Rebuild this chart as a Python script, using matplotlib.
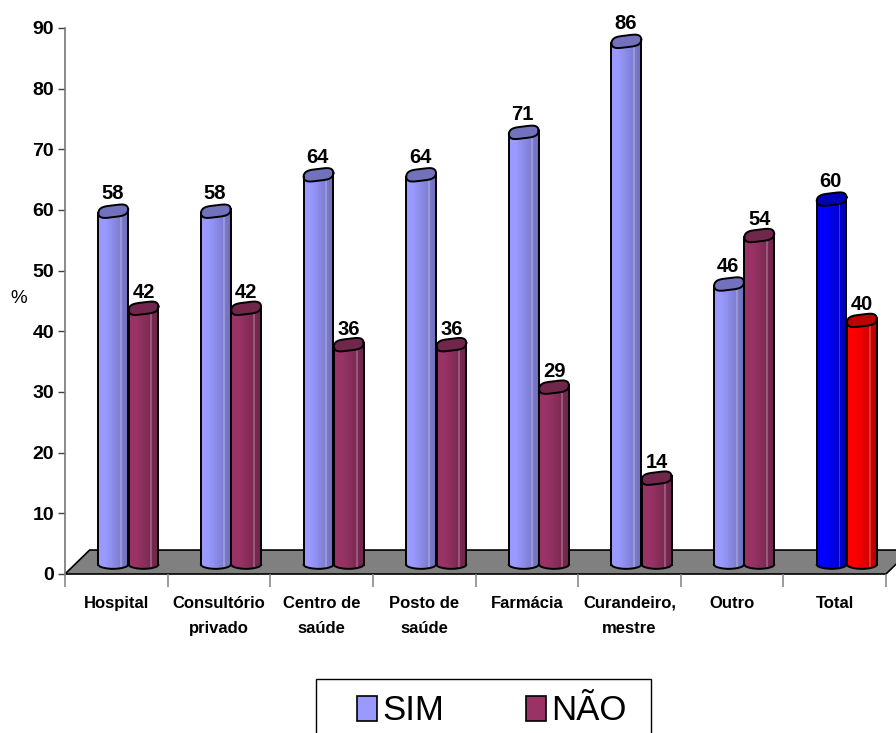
#!/usr/bin/env python3

import numpy as np
import matplotlib
matplotlib.use("Agg")
import matplotlib.pyplot as plt
from matplotlib.patches import Patch, Polygon, Rectangle

plt.rcParams['font.family'] = ['Liberation Sans', 'DejaVu Sans']

categories = ['Hospital', 'Consultório\nprivado', 'Centro de\nsaúde', 'Posto de\nsaúde',
              'Farmácia', 'Curandeiro,\nmestre', 'Outro', 'Total']
sim = [58, 58, 64, 64, 71, 86, 46, 60]
nao = [42, 42, 36, 36, 29, 14, 54, 40]
y_ticks = [0, 10, 20, 30, 40, 50, 60, 70, 80, 90]

sim_color = '#9999ff'
nao_color = '#993366'
total_sim_color = '#0000ff'
total_nao_color = '#ff0000'


def darker(color, f):
    return tuple(c * f for c in matplotlib.colors.to_rgb(color))


def lighter(color, f):
    return tuple(c + (1 - c) * f for c in matplotlib.colors.to_rgb(color))


# one cylinder made of thin vertical strips plus a lid
def cylinder(ax, xc, value, color, width=0.29, z=3):
    base = 1.5
    strips = 15
    dx = width / strips
    rise = 0.6    # lid is tilted, right side sits higher
    for i in range(strips):
        frac = (i + 0.5) / strips
        shade = 1.0 if frac < 0.25 else 1.0 - 0.28 * (frac - 0.25) / 0.75
        c = darker(color, shade)
        if i == 11:
            c = lighter(c, 0.22)
        low = base - 0.65 * np.sin(np.pi * frac) ** 0.5
        ax.bar(xc - width / 2 + (i + 0.5) * dx, value + rise * frac + base - low, width=dx * 1.05,
               bottom=low, color=c, linewidth=0, zorder=z)

    t = np.linspace(0, 2 * np.pi, 80)
    lid_x = xc + width / 2 * np.cos(t)
    lid_y = base + value + rise / 2 + rise / 2 * np.cos(t) + 1.1 * np.sin(t) + 0.13 * np.sin(3 * t)
    ax.fill(lid_x, lid_y, color=darker(color, 0.74), linewidth=0, zorder=z + 0.1)
    ax.plot(lid_x, lid_y, color='black', lw=1.4, zorder=z + 0.2)

    # sides and rounded foot
    u = np.linspace(0, 1, 30)
    foot_x = xc - width / 2 + width * u
    foot_y = base - 0.65 * np.sin(np.pi * u) ** 0.5
    ax.plot(foot_x, foot_y, color='black', lw=1.4, zorder=z + 0.2)
    ax.plot([xc - width / 2] * 2, [base, base + value], color='black', lw=1.4, zorder=z + 0.2)
    ax.plot([xc + width / 2] * 2, [base, base + value + rise], color='black', lw=1.4, zorder=z + 0.2)


fig = plt.figure(figsize=(8.96, 7.33), dpi=100, facecolor='white')
ax = fig.add_axes([65 / 896, (733 - 574) / 733, (886 - 65) / 896, (574 - 28) / 733])
ax.set_xlim(-0.5, 7.5)
ax.set_ylim(0, 90)

# floor under the bars
floor = Polygon([(-0.5, 0), (-0.5 + 0.24, 3.95), (7.5 + 0.24, 3.95), (7.5, 0)], closed=True,
                facecolor='#808080', edgecolor='black', lw=1.2, zorder=1, clip_on=False)
ax.add_patch(floor)

for i in range(len(categories)):
    col_a = total_sim_color if categories[i] == 'Total' else sim_color
    col_b = total_nao_color if categories[i] == 'Total' else nao_color
    xa = i - 0.03
    xb = i + 0.265
    cylinder(ax, xa, sim[i], col_a, z=3 + i)
    cylinder(ax, xb, nao[i], col_b, z=3.5 + i)
    ax.annotate(str(sim[i]), (xa - 0.01, sim[i] + 1.5), xytext=(0, 14), textcoords='offset points',
                ha='center', va='center', fontsize=14.5, fontweight='bold', zorder=20, annotation_clip=False)
    ax.annotate(str(nao[i]), (xb, nao[i] + 1.5), xytext=(0, 12.5), textcoords='offset points',
                ha='center', va='center', fontsize=14.5, fontweight='bold', zorder=20, annotation_clip=False)

for s in ['top', 'right']:
    ax.spines[s].set_visible(False)
ax.spines['left'].set_color('#808080')
ax.spines['left'].set_linewidth(1.3)
ax.spines['bottom'].set_visible(False)

ax.set_yticks(y_ticks)
ax.set_yticklabels([str(v) for v in y_ticks], fontsize=14, fontweight='bold')
ax.tick_params(axis='y', length=5, width=1, color='#404040', pad=3)

# category names sit between the ticks
ax.set_xticks(np.arange(-0.5, 8.5, 1))
ax.set_xticklabels([])
ax.set_xticks(range(len(categories)), minor=True)
ax.set_xticklabels(categories, minor=True, fontsize=12, fontweight='bold', linespacing=1.86)
ax.tick_params(axis='x', which='major', length=9, width=1.1, color='#808080')
ax.tick_params(axis='x', which='minor', length=0, pad=15.5)

fig.text(19 / 896, 1 - 298 / 733, '%', fontsize=13.5, ha='center', va='center')

# legend box runs past the bottom of the figure
fig.add_artist(Rectangle((316 / 896, -20 / 733), 335 / 896, 74 / 733, transform=fig.transFigure,
                         facecolor='white', edgecolor='black', lw=1.0, clip_on=False))
handles = [Patch(facecolor=sim_color, edgecolor='black', lw=1.2),
           Patch(facecolor=nao_color, edgecolor='black', lw=1.2)]
leg = fig.legend(handles, ['SIM', 'NÃO'], ncol=2, frameon=False, fontsize=25,
                 loc='center left', bbox_to_anchor=(326 / 896, 1 - 711 / 733),
                 handlelength=0.58, handleheight=0.75, handletextpad=0.14, columnspacing=2.35)
leg.set_zorder(5)

fig.savefig('out.png', dpi=100, facecolor='white')
